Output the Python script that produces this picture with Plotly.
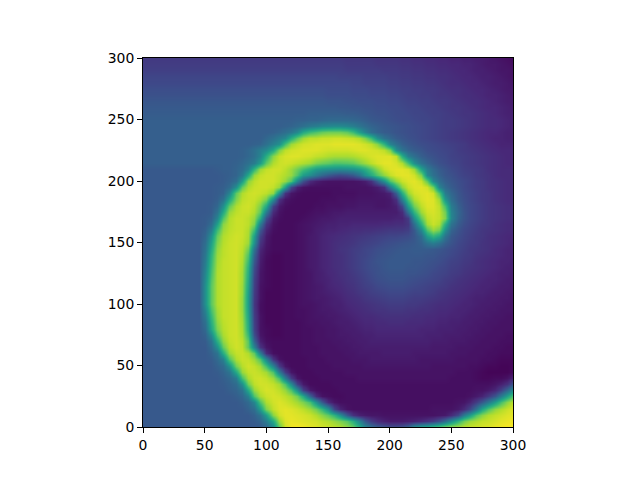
import plotly.graph_objects as go

x_vals = list(range(0, 301, 5))
y_vals = list(range(0, 301, 5))
x_ticks = [0, 50, 100, 150, 200, 250, 300]
y_ticks = [0, 50, 100, 150, 200, 250, 300]

# percent values; rows from y=0 up to y=300; columns x=0..300 step 5
z_rows = [
[28]*10+[28,28,28,28,28,28,28,28,28,29, 33,47,75,93,98,99,98,96,95,93, 92,90,88,83,76,62,46,37,30,26, 24,24,26,33,50,58,62,68,74,80, 84,87,90,92,93,94,95,97,98,99, 99],
[28]*10+[28,28,28,28,28,28,28,28,29,32, 42,60,85,95,97,96,95,94,93,90, 88,84,80,74,62,46,28,18,12,9, 7,7,7,8,9,11,14,18,25,36, 50,65,78,85,88,91,92,94,96,97, 98],
[28]*10+[28,28,28,28,28,28,28,28,31,38, 55,82,93,96,96,95,94,92,88,82, 75,65,50,28,14,9,7,6,6,5, 5,5,5,5,5,5,5,5,6,7, 12,22,42,56,72,82,88,91,93,95, 96],
[28]*10+[28,28,28,28,28,28,28,31,36,55, 80,91,95,96,95,93,90,85,78,66, 50,22,10,5,4,4,4,4,4,4, 4,4,4,4,4,4,4,5,5,5, 5,7,12,22,38,58,72,83,88,92, 95],
[28]*10+[28,28,28,28,28,28,30,34,46,72, 88,93,95,93,90,86,80,70,50,28, 12,6,4,4,4,4,4,4,4,4, 4,4,4,4,4,4,4,4,4,4, 4,5,6,10,18,28,40,55,70,82, 90],
[28]*10+[28,28,28,28,28,30,33,44,72,87, 92,94,93,90,86,78,60,32,12,5, 4,3,3,4,4,4,4,4,4,4, 4,4,4,4,4,4,4,4,4,4, 4,4,4,5,7,10,17,27,42,57, 72],
[28]*10+[28,28,28,28,30,32,38,60,84,91, 94,93,90,84,72,50,20,7,4,3, 3,3,4,4,4,4,4,4,4,4, 4,4,4,4,4,4,4,4,4,4, 4,4,4,4,5,5,7,11,20,33, 48],
[28]*10+[28,28,28,29,31,35,50,78,90,93, 93,91,86,72,48,20,7,3,3,3, 3,4,4,4,4,4,4,4,4,4, 4,4,4,4,4,4,4,4,4,4, 4,4,4,4,4,4,4,6,9,14, 26],
[28]*10+[28,28,28,30,33,42,70,87,92,93, 91,85,70,42,18,6,3,3,3,4, 4,4,4,4,4,5,5,5,5,5, 5,5,5,5,5,5,5,5,5,5, 4,4,4,4,3,2,2,3,3,5, 10],
[28]*10+[28,28,29,32,38,60,84,91,92,90, 86,72,42,18,6,3,3,3,4,4, 4,4,4,5,5,5,5,5,5,5, 5,5,5,5,5,5,5,5,5,5, 5,4,4,4,3,2,1,1,1,1, 3],
[28]*10+[28,28,31,35,50,78,89,93,91,86, 70,45,18,6,3,3,3,4,4,4, 4,5,5,5,5,5,6,6,6,6, 6,6,6,6,6,6,6,5,5,5, 5,5,5,4,4,3,2,2,1,1, 2],
[28]*10+[28,29,34,44,72,88,92,91,85,72, 45,15,5,3,3,3,3,4,4,4, 5,5,5,5,6,6,6,7,7,7, 7,7,7,7,7,6,6,6,6,6, 6,5,5,5,5,4,4,3,2,2, 2],
[28]*10+[28,31,38,62,84,91,92,88,75,42, 12,4,3,3,3,3,4,4,4,5, 5,5,5,6,6,7,7,7,7,8, 8,8,8,8,7,7,7,7,7,7, 6,6,6,5,5,5,4,4,3,3, 3],
[28]*10+[28,34,50,76,89,93,91,75,45,15, 6,3,3,3,3,3,4,4,4,5, 5,5,6,6,7,7,8,8,8,8, 8,8,8,8,8,8,8,7,7,7, 7,6,6,6,5,5,5,4,4,3, 3],
[28]*10+[29,38,62,83,91,93,90,74,32,9, 4,3,3,3,3,3,4,4,5,5, 5,6,6,7,7,8,8,9,9,9, 9,9,9,9,9,9,9,8,8,8, 7,7,7,6,6,5,5,5,4,4, 4],
[28]*10+[31,47,73,87,92,93,88,67,24,6, 3,2,2,3,3,3,4,4,5,5, 6,6,7,7,8,8,9,9,10,10, 10,10,10,10,10,10,9,9,9,8, 8,8,7,7,6,6,5,5,5,4, 4],
[28]*10+[34,58,80,89,92,93,87,62,20,5, 3,2,2,3,3,3,4,4,5,5, 6,6,7,8,8,9,10,10,11,11, 11,11,11,11,11,10,10,10,9,9, 9,8,8,7,7,6,6,5,5,5, 5],
[28]*10+[37,62,83,90,92,93,86,60,19,5, 2,2,2,3,3,3,4,5,5,6, 6,7,8,8,9,10,11,11,12,12, 13,13,13,12,12,12,11,11,10,10, 9,9,8,8,7,7,6,6,5,5, 5],
[28]*10+[41,66,85,91,92,93,85,58,18,5, 2,2,2,3,3,4,4,5,6,6, 7,7,8,9,10,11,12,12,13,14, 14,14,14,14,13,13,12,12,11,11, 10,10,9,8,8,7,7,6,6,5, 5],
[28]*10+[45,70,86,91,92,93,84,56,17,4, 2,2,2,3,3,4,4,5,6,7, 7,8,9,10,11,12,13,14,15,15, 16,16,16,15,15,14,14,13,12,12, 11,10,10,9,8,8,7,7,6,6, 6],
[28]*10+[50,74,88,91,92,93,84,55,16,4, 2,2,2,3,3,4,5,5,6,7, 8,9,9,11,12,13,14,15,16,17, 18,18,18,17,17,16,15,14,13,13, 12,11,10,10,9,8,8,7,7,6, 6],
[28]*10+[50,74,88,91,92,93,84,55,17,5, 2,2,2,3,3,4,5,6,7,7, 8,9,10,12,13,14,16,17,18,19, 20,20,20,19,18,18,17,16,15,14, 13,12,11,10,9,9,8,8,7,7, 6],
[28]*10+[50,74,88,91,92,93,85,56,18,5, 2,2,2,3,3,4,5,6,7,8, 9,10,11,13,14,16,17,19,20,21, 22,22,22,21,20,20,19,18,16,15, 14,13,12,11,10,10,9,8,8,7, 7],
[28]*10+[50,74,88,91,92,93,85,58,19,5, 3,2,2,3,3,4,5,6,7,8, 10,11,12,14,15,17,19,20,22,23, 24,24,24,23,22,21,20,19,18,17, 15,14,13,12,11,10,10,9,8,8, 7],
[28]*10+[48,72,88,91,92,93,86,60,20,6, 3,2,2,3,3,4,5,6,8,9, 10,12,13,15,16,18,20,22,24,25, 26,26,26,25,24,23,22,21,20,18, 17,15,14,13,12,11,10,10,9,8, 8],
[28]*10+[46,70,88,91,92,93,86,62,22,6, 3,2,2,3,3,4,5,6,8,9, 11,12,14,15,17,19,21,23,25,26, 27,27,27,26,26,25,24,22,21,20, 18,17,15,14,13,12,11,10,9,9, 8],
[28]*10+[44,68,87,91,92,93,87,64,24,7, 3,2,2,3,3,4,5,7,8,10, 11,13,14,16,18,20,22,24,25,27, 28,28,28,27,27,26,25,24,22,21, 19,18,16,15,14,13,12,11,10,9, 9],
[28]*10+[42,66,86,91,92,93,88,68,28,8, 3,2,2,3,3,4,5,7,8,10, 11,13,14,16,18,20,22,24,26,27, 28,28,28,28,27,27,26,25,24,22, 20,19,17,16,14,13,12,11,10,10, 9],
[28]*10+[40,64,85,90,92,93,89,72,32,9, 4,2,2,3,3,4,5,7,8,10, 11,13,14,16,18,20,21,23,25,26, 27,28,28,28,28,28,27,27,25,24, 22,20,18,17,15,14,13,12,11,10, 10],
[28]*10+[38,60,83,90,92,93,90,78,38,11, 5,3,3,3,3,4,5,7,8,10, 11,13,15,16,18,19,21,22,24,25, 26,27,28,28,29,29,29,28,27,25, 23,21,19,17,16,15,14,12,11,10, 10],
[28]*10+[36,56,80,89,92,93,91,85,50,15, 6,3,3,3,3,4,5,7,8,10, 11,13,14,15,16,18,19,20,21,23, 24,25,26,27,28,31,38,42,37,30, 26,22,20,18,17,15,14,13,12,11, 10],
[28]*10+[33,50,76,88,91,93,92,87,56,20, 7,3,3,3,3,4,5,7,8,10, 11,12,13,14,15,16,17,18,19,20, 21,21,22,23,27,35,55,65,58,38, 28,24,21,19,17,16,14,13,12,11, 11],
[28]*10+[31,42,68,85,90,92,92,88,68,28, 10,4,3,3,3,4,5,6,8,9, 10,10,11,12,13,13,14,14,15,16, 17,17,17,19,28,46,72,84,78,50, 32,26,22,20,18,16,15,14,13,12, 12],
[28]*10+[29,35,56,82,89,92,92,90,80,42, 15,5,3,3,3,4,5,6,7,8, 9,9,10,10,11,11,11,11,11,12, 12,13,13,16,36,62,86,92,88,62, 38,29,24,21,19,17,16,14,13,12, 12],
[28]*10+[29,31,45,72,88,92,92,90,84,62, 25,7,4,3,3,3,4,5,6,7, 7,8,9,9,9,9,9,9,9,9, 9,10,10,18,50,75,90,93,91,80, 46,32,26,22,20,18,16,15,14,13, 13],
[28]*10+[28,29,38,60,84,90,92,92,88,75, 42,12,5,3,3,3,3,4,5,5, 6,7,7,8,8,8,8,8,8,8, 8,8,12,38,65,85,93,94,91,78, 45,33,26,22,20,18,16,15,14,13, 13],
[28]*10+[28,29,33,50,75,88,92,93,90,80, 60,20,7,4,3,3,3,3,4,4, 5,5,5,6,6,7,7,7,6,6, 7,9,22,55,78,90,95,95,90,70, 42,31,25,22,20,18,16,15,14,13, 13],
[28]*10+[28,28,30,37,58,80,90,92,92,88, 80,50,15,6,4,3,3,3,3,4, 4,4,5,5,5,6,6,6,6,6, 7,14,44,72,88,94,96,95,85,52, 36,28,24,21,19,17,16,14,13,12, 12],
[28]*10+[28,28,29,31,45,75,88,92,93,92, 90,83,50,15,6,4,3,3,3,3, 3,4,4,4,4,5,5,5,6,7, 10,30,62,85,93,95,96,93,72,42, 33,27,23,21,19,17,16,14,13,12, 12],
[28]*10+[28,28,29,30,34,50,76,88,92,93, 93,91,84,56,22,9,5,4,4,4, 4,4,4,5,5,5,5,6,8,14, 40,62,82,92,95,96,93,78,45,34, 29,25,22,20,18,17,15,14,13,12, 12],
[28]*10+[28,28,28,29,31,36,55,82,90,93, 93,93,90,84,72,46,25,12,8,6, 5,5,5,5,5,6,8,14,30,50, 72,84,92,95,96,92,75,47,36,30, 27,24,22,20,18,17,15,14,13,12, 12],
[28]*10+[28,28,28,29,30,32,40,60,84,91, 93,93,91,88,84,72,55,48,40,33, 28,24,22,24,28,36,50,60,72,83, 91,95,96,96,93,80,47,37,31,27, 25,22,20,19,17,16,15,13,12,12, 12],
[28]*10+[28,28,29,30,30,32,35,44,65,85, 91,93,93,90,85,78,70,62,55,52, 50,49,48,49,51,55,62,72,82,92, 95,96,96,94,85,58,42,34,29,26, 23,21,19,18,17,16,14,13,12,12, 12],
[30]*10+[30,30,30,30,30,31,33,37,42,55, 75,88,92,93,92,90,88,85,80,77, 75,72,72,73,75,80,85,90,94,96, 96,94,88,70,50,38,32,28,25,23, 21,20,18,17,16,15,14,13,12,11, 11],
[30]*10+[30,30,30,30,30,30,31,33,37,45, 62,82,91,94,95,95,94,93,91,90, 88,87,87,87,88,90,92,94,95,95, 95,90,62,43,36,30,27,25,23,22, 20,19,18,17,16,15,14,13,12,11, 11],
[30]*10+[30,30,30,30,30,30,31,33,37,43, 48,60,80,90,93,94,95,95,95,94, 93,93,93,93,94,95,95,94,93,90, 80,50,38,32,29,27,24,23,22,21, 20,18,17,16,15,14,13,12,11,11, 11],
[30]*10+[30,30,30,30,30,30,30,30,31,32, 37,44,50,70,85,90,93,94,95,95, 95,96,96,96,96,95,93,90,82,65, 45,37,31,28,26,24,23,22,21,20, 19,18,17,15,14,13,12,11,10,10, 10],
[30]*10+[30,30,30,30,30,30,30,30,30,30, 33,37,42,47,62,75,85,90,90,92, 92,93,93,92,91,88,80,68,50,38, 33,29,27,25,24,22,21,20,19,18, 17,16,15,14,13,12,11,10,10,9, 9],
[30]*10+[30,30,30,30,30,30,30,30,30,30, 30,31,33,36,40,47,60,68,72,76, 78,78,78,75,68,56,45,36,32,29, 28,26,25,24,23,22,21,20,19,18, 17,16,15,14,13,12,11,11,10,9, 9],
[30]*10+[30,30,30,30,30,30,30,30,30,30, 30,30,30,31,32,34,37,41,43,46, 47,48,48,46,43,39,35,32,30,28, 27,26,25,24,23,22,21,20,19,18, 18,17,16,15,14,13,12,12,11,10, 9],
[30]*10+[30,30,30,30,30,30,30,30,30,30, 30,30,30,30,30,31,31,32,32,33, 34,34,34,34,33,32,30,28,27,26, 25,24,23,23,22,21,21,20,19,18, 18,17,16,15,14,13,12,12,11,10, 9],
[29]*10+[29,29,29,29,29,29,29,29,29,29, 29,29,29,29,29,29,29,30,30,30, 30,30,30,29,29,28,27,26,25,25, 24,23,23,22,21,21,20,19,19,18, 17,16,15,15,14,13,12,11,10,9, 9],
[28]*10+[28,28,28,28,28,28,28,28,28,28, 28,28,28,28,28,28,28,28,28,28, 28,28,27,27,26,26,25,25,24,24, 23,23,22,21,21,20,19,19,18,17, 16,16,15,14,13,12,11,11,10,9, 8],
[27]*10+[27,27,27,27,27,27,27,27,27,27, 27,27,27,27,27,27,27,27,27,27, 26,26,26,25,25,24,24,24,23,23, 22,22,21,20,20,19,19,18,17,17, 16,15,14,13,13,12,11,10,9,8, 8],
[25]*10+[25,25,25,25,25,25,25,25,25,25, 25,25,25,25,25,25,25,25,25,25, 24,24,24,24,23,23,23,22,22,22, 21,21,20,19,19,18,18,17,16,16, 15,14,13,13,12,11,10,10,9,8, 7],
[24]*10+[24,24,24,24,24,24,24,24,24,24, 24,24,24,24,24,24,24,24,24,24, 23,23,23,23,22,22,22,21,21,21, 20,20,19,19,18,18,17,17,16,15, 14,14,13,12,11,11,10,9,8,7, 7],
[22]*10+[22,22,22,22,22,22,22,22,22,22, 22,22,22,22,22,22,22,22,22,22, 22,22,22,22,21,21,20,20,20,20, 19,19,18,18,17,17,16,16,15,14, 13,13,12,11,11,10,9,8,8,7, 6],
[21]*10+[21,21,21,21,21,21,21,21,21,21, 21,21,21,21,21,21,21,21,21,21, 21,21,20,20,20,20,19,19,19,19, 18,18,17,17,16,16,15,15,14,14, 13,12,11,11,10,9,9,8,7,6, 5],
[19]*10+[19,19,19,19,19,19,19,19,19,19, 19,19,19,19,19,19,19,19,19,19, 19,19,19,18,18,18,18,18,18,17, 17,17,16,16,15,15,14,14,13,13, 12,11,11,10,9,9,8,7,6,6, 5],
[18]*10+[18,18,18,18,18,18,18,18,18,18, 18,18,18,18,18,18,18,18,18,18, 18,18,18,17,17,17,17,17,16,16, 16,16,15,15,14,14,13,13,12,12, 11,11,10,10,9,8,7,7,6,5, 4],
[17]*10+[17,17,17,17,17,17,17,17,17,17, 17,17,17,17,17,17,17,17,17,17, 17,17,17,16,16,16,16,16,15,15, 15,15,14,14,13,13,12,12,11,11, 10,10,9,9,8,8,7,6,5,4, 3],
]

fig = go.Figure(go.Heatmap(
    x=x_vals, y=y_vals, z=z_rows,
    colorscale="Viridis", zmin=0, zmax=100, showscale=False,
    zsmooth="best",
    hoverinfo="skip",
))

axis = dict(range=[0, 300], showgrid=False, zeroline=False, showline=True, mirror=True,
            linecolor="black", linewidth=1, ticks="outside", ticklen=5, tickwidth=1,
            tickcolor="black", tickfont=dict(family="DejaVu Sans", size=13.9, color="black"))
fig.update_layout(
    width=632, height=472, autosize=False,
    margin=dict(l=135, r=127, t=50, b=53, pad=0),
    paper_bgcolor="white", plot_bgcolor="white",
    xaxis=dict(axis, tickvals=x_ticks),
    yaxis=dict(axis, tickvals=y_ticks),
)
fig.write_html("out.html")
